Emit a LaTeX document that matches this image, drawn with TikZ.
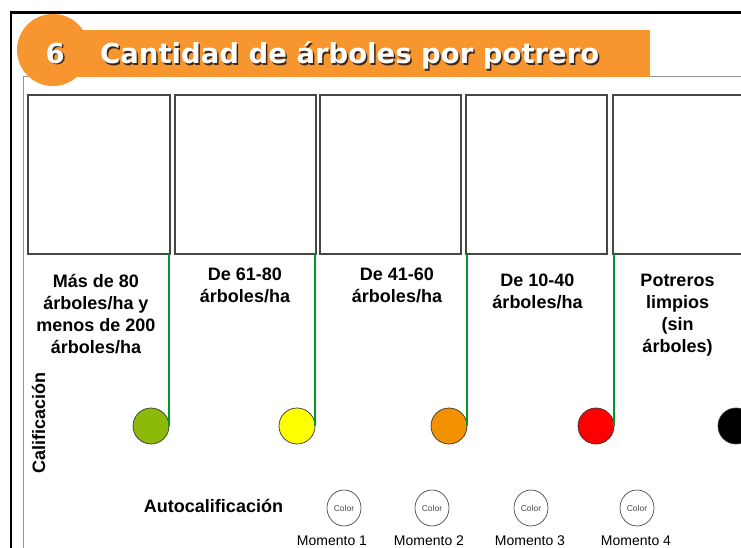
\documentclass[tikz,border=0pt]{standalone}
\usepackage{fontspec}
\setmainfont{Liberation Sans}
\newfontfamily\titlefont{DejaVu Sans}
\usetikzlibrary{shapes.geometric}
\definecolor{bannerorange}{RGB}{247,150,47}
\definecolor{cgreen}{RGB}{141,186,10}
\definecolor{cyellow}{RGB}{255,255,0}
\definecolor{corange}{RGB}{243,146,0}
\definecolor{cred}{RGB}{255,0,0}
\definecolor{glinec}{RGB}{0,150,40}
\definecolor{framegray}{RGB}{150,150,150}
\definecolor{boxgray}{RGB}{70,70,70}
\definecolor{shadowc}{RGB}{60,40,25}
\tikzset{
  photobox/.style={draw=boxgray,line width=1.1pt,fill=white,inner sep=0,outer sep=0,minimum height=159pt},
  dot/.style={circle,draw=black!80,line width=0.7pt,minimum size=36pt,inner sep=0,outer sep=0},
  gline/.style={draw=glinec,line width=1.2pt},
  lbl/.style={anchor=base,align=center,inner sep=0,font=\bfseries\fontsize{18}{22}\selectfont},
  selfc/.style={ellipse,draw=black!80,line width=0.6pt,minimum width=34pt,minimum height=36pt,inner sep=0,font=\fontsize{8.5}{9}\selectfont,text=black!70},
  moment/.style={anchor=base,inner sep=0,font=\fontsize{14}{16}\selectfont},
  titletxt/.style={anchor=base west,inner sep=0,font=\titlefont\bfseries\fontsize{27.5}{30}\selectfont}
}
\begin{document}
\begin{tikzpicture}[x=1pt,y=-1pt]
\useasboundingbox (0,0) rectangle (741,548);
\fill[white] (0,0) rectangle (741,548);
% frames
\draw[framegray,line width=1pt] (23,548) -- (23,77) -- (741,77);
\draw[black,line width=2.2pt] (11,548) -- (11,12.5) -- (741,12.5);
% banner
\fill[bannerorange] (55,30) rectangle (650,77);
\fill[bannerorange] (53,50) circle (36);
\node[titletxt,text=shadowc] (sixs) at (47,65) {6};
\node[titletxt,text=white] (six) at (45.5,63.5) {6};
\node[titletxt,text=shadowc] (titles) at (101.5,65.5) {Cantidad de árboles por potrero};
\node[titletxt,text=white] (title) at (100,64) {Cantidad de árboles por potrero};
% photo boxes
\node[photobox,minimum width=142pt] (b1) at (99,174.5) {};
\node[photobox,minimum width=141pt] (b2) at (245.5,174.5) {};
\node[photobox,minimum width=141pt] (b3) at (390.5,174.5) {};
\node[photobox,minimum width=141pt] (b4) at (536.5,174.5) {};
\node[photobox,minimum width=142pt] (b5) at (684,174.5) {};
% labels (base = baseline of last line)
\node[lbl] (l1) at (96,353) {Más de 80\\árboles/ha y\\menos de 200\\árboles/ha};
\node[lbl] (l2) at (245,302) {De 61-80\\árboles/ha};
\node[lbl] (l3) at (397,302) {De 41-60\\árboles/ha};
\node[lbl] (l4) at (537.5,308) {De 10-40\\árboles/ha};
\node[lbl] (l5) at (677.5,352) {Potreros\\limpios\\(sin\\árboles)};
% rating circles
\node[dot,fill=cgreen] (c1) at (151,426) {};
\node[dot,fill=cyellow] (c2) at (297,426) {};
\node[dot,fill=corange] (c3) at (449,426) {};
\node[dot,fill=cred] (c4) at (596,426) {};
\node[dot,fill=black] (c5) at (736,426) {};
\draw[gline] (c1.east) -- (c1.east |- b1.south);
\draw[gline] (c2.east) -- (c2.east |- b2.south);
\draw[gline] (c3.east) -- (c3.east |- b4.south);
\draw[gline] (c4.east) -- (c4.east |- b5.south);
% side label
\node[rotate=90,anchor=base,inner sep=0,font=\bfseries\fontsize{18}{20}\selectfont] (calif) at (45,423) {Calificación};
% self rating
\node[anchor=base,inner sep=0,font=\bfseries\fontsize{18}{20}\selectfont] (auto) at (213.5,512) {Autocalificación};
\node[selfc] (m1) at (344,508) {Color};
\node[selfc] (m2) at (432,508) {Color};
\node[selfc] (m3) at (531,508) {Color};
\node[selfc] (m4) at (637,508) {Color};
\node[moment] (t1) at (332,545.5) {Momento 1};
\node[moment] (t2) at (429,545.5) {Momento 2};
\node[moment] (t3) at (530,545.5) {Momento 3};
\node[moment] (t4) at (636,545.5) {Momento 4};
\end{tikzpicture}
\end{document}
